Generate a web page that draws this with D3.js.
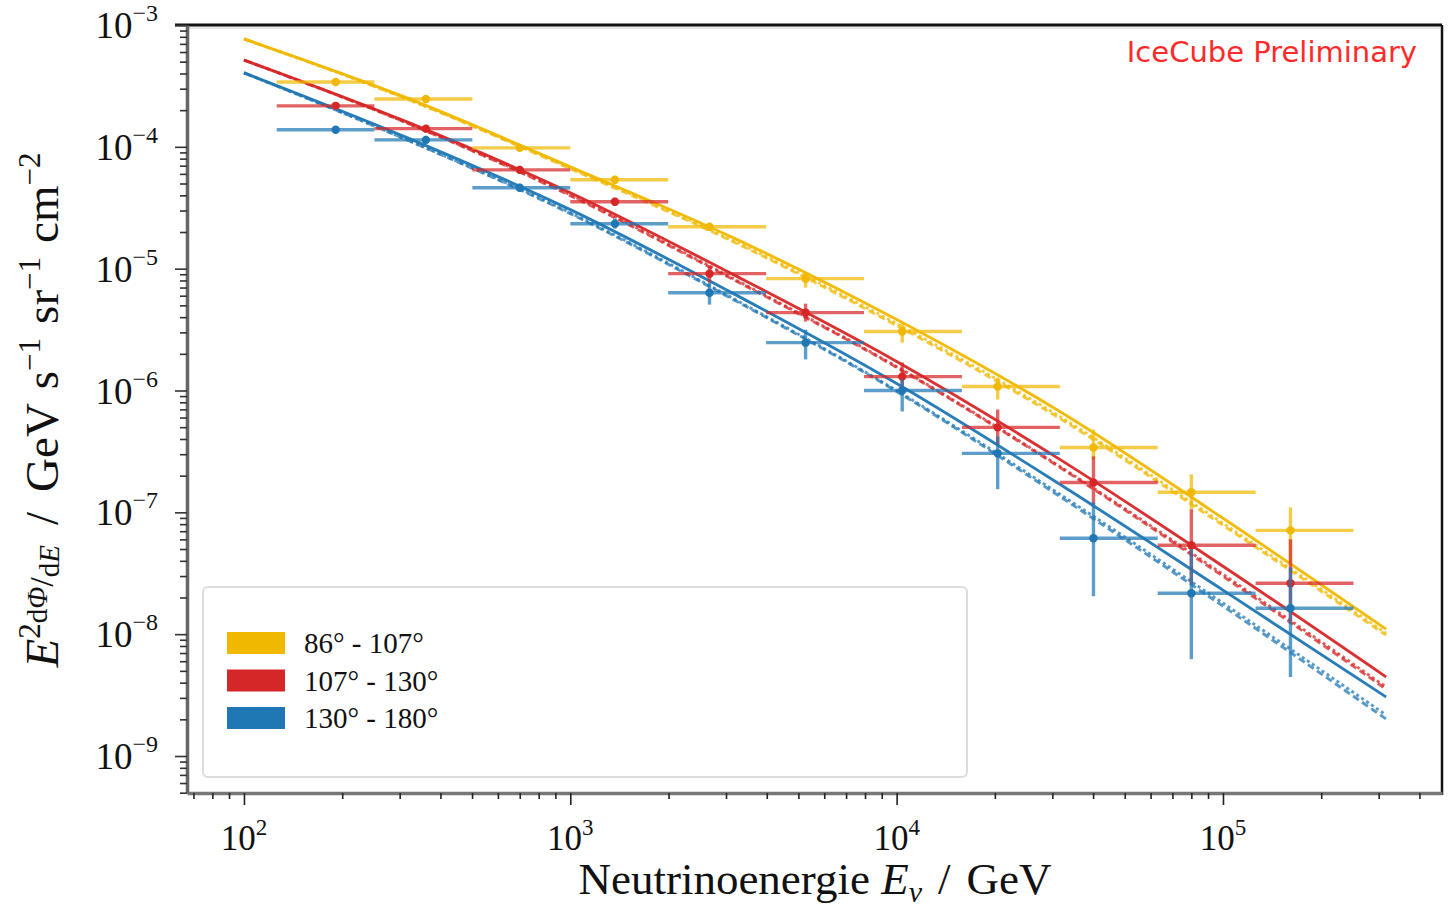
<!DOCTYPE html>
<html>
<head>
<meta charset="utf-8">
<script src="https://cdn.jsdelivr.net/npm/d3@7"></script>
<style>
  html, body { margin: 0; padding: 0; background: #fff; }
  svg { display: block; }
</style>
</head>
<body>
<svg id="chart" width="1450" height="908"></svg>
<script>
// Zenith bands
const bandLabels = ["86° - 107°", "107° - 130°", "130° - 180°"];
const bandColors = ["#f0b800", "#d62728", "#1f77b4"];

// Unfolded spectrum: mean energies of the bins (GeV) and bin edges
const energies = [191, 361, 700, 1370, 2670, 5260, 10400, 20400, 40100, 80000, 161000];
const binEdges = [126, 251, 501, 1000, 1995, 3981, 7943, 15849, 31623, 63096, 125893, 251189];

// E^2 dPhi/dE  (GeV s^-1 sr^-1 cm^-2)
const yellowFlux = [3.41e-4, 2.47e-4, 9.81e-5, 5.37e-5, 2.21e-5, 8.28e-6, 3.05e-6, 1.08e-6, 3.41e-7, 1.46e-7, 7.11e-8];
const yellowHi   = [3.61e-4, 2.62e-4, 1.04e-4, 5.78e-5, 2.38e-5, 9.44e-6, 3.54e-6, 1.28e-6, 4.79e-7, 2.05e-7, 1.10e-7];
const yellowLo   = [3.22e-4, 2.34e-4, 9.27e-5, 4.98e-5, 2.05e-5, 6.98e-6, 2.47e-6, 8.43e-7, 2.72e-7, 1.06e-7, 3.75e-8];

const redFlux = [2.17e-4, 1.41e-4, 6.47e-5, 3.54e-5, 9.10e-6, 4.36e-6, 1.30e-6, 4.98e-7, 1.76e-7, 5.37e-8, 2.62e-8];
const redHi   = [2.30e-4, 1.51e-4, 6.98e-5, 3.82e-5, 1.06e-5, 5.16e-6, 1.70e-6, 6.98e-7, 2.88e-7, 1.06e-7, 6.01e-8];
const redLo   = [2.05e-4, 1.30e-4, 6.01e-5, 3.28e-5, 7.68e-6, 3.68e-6, 1.02e-6, 3.61e-7, 1.16e-7, 2.57e-8, 1.21e-8];

const blueFlux = [1.38e-4, 1.14e-4, 4.61e-5, 2.34e-5, 6.35e-6, 2.47e-6, 1.00e-6, 3.05e-7, 6.12e-8, 2.17e-8, 1.63e-8];
const blueHi   = [1.46e-4, 1.23e-4, 4.98e-5, 2.57e-5, 7.68e-6, 3.16e-6, 1.23e-6, 4.20e-7, 1.21e-7, 4.98e-8, 3.54e-8];
const blueLo   = [1.30e-4, 1.06e-4, 4.28e-5, 2.13e-5, 5.07e-6, 1.80e-6, 6.73e-7, 1.55e-7, 2.05e-8, 6.24e-9, 4.45e-9];

// Model predictions (solid, dashed, dotted) sampled every half decade
const modelE = [100, 316, 1000, 3162, 10000, 31623, 100000, 316228];
const yellowSolid  = [7.68e-4, 2.52e-4, 6.85e-5, 1.79e-5, 3.82e-6, 6.73e-7, 8.93e-8, 1.10e-8];
const yellowDashed = [7.68e-4, 2.47e-4, 6.61e-5, 1.66e-5, 3.41e-6, 5.89e-7, 7.82e-8, 9.82e-9];
const yellowDotted = [7.68e-4, 2.47e-4, 6.73e-5, 1.70e-5, 3.54e-6, 6.12e-7, 8.13e-8, 1.02e-8];
const redSolid  = [5.16e-4, 1.60e-4, 4.20e-5, 8.93e-6, 1.73e-6, 2.72e-7, 3.61e-8, 4.45e-9];
const redDashed = [5.16e-4, 1.57e-4, 3.97e-5, 8.13e-6, 1.55e-6, 2.34e-7, 2.99e-8, 3.54e-9];
const redDotted = [5.16e-4, 1.57e-4, 4.04e-5, 8.28e-6, 1.57e-6, 2.38e-7, 3.10e-8, 3.68e-9];
const blueSolid  = [4.05e-4, 1.19e-4, 3.05e-5, 6.24e-6, 1.14e-6, 1.70e-7, 2.30e-8, 3.05e-9];
const blueDashed = [4.05e-4, 1.14e-4, 2.83e-5, 5.57e-6, 9.82e-7, 1.35e-7, 1.70e-8, 2.01e-9];
const blueDotted = [4.05e-4, 1.14e-4, 2.88e-5, 5.68e-6, 1.00e-6, 1.41e-7, 1.80e-8, 2.17e-9];

const xTickExps = [2, 3, 4, 5];
const yTickExps = [-9, -8, -7, -6, -5, -4, -3];

(function draw() {
  const svg = d3.select("#chart");
  const pL = 187, pR = 1442, pT = 25, pB = 793;

  const x = d3.scaleLog().domain([66.9, 4.69e5]).range([pL, pR]);
  const y = d3.scaleLog().domain([4.97e-10, 1e-3]).range([pB, pT]);

  svg.append("rect").attr("width", 1450).attr("height", 908).attr("fill", "#fff");

  svg.append("defs").append("clipPath").attr("id", "plotclip")
    .append("rect").attr("x", pL).attr("y", pT).attr("width", pR - pL).attr("height", pB - pT);

  const plot = svg.append("g").attr("clip-path", "url(#plotclip)");

  const series = [
    { color: bandColors[0], flux: yellowFlux, hi: yellowHi, lo: yellowLo, models: [yellowSolid, yellowDashed, yellowDotted] },
    { color: bandColors[1], flux: redFlux, hi: redHi, lo: redLo, models: [redSolid, redDashed, redDotted] },
    { color: bandColors[2], flux: blueFlux, hi: blueHi, lo: blueLo, models: [blueSolid, blueDashed, blueDotted] }
  ];

  const line = d3.line()
    .x(d => x(d[0]))
    .y(d => y(d[1]))
    .curve(d3.curveMonotoneX);

  const dashes = [null, "7,4", "3,3"];

  // model curves
  series.forEach(s => {
    s.models.forEach((m, k) => {
      plot.append("path")
        .datum(modelE.map((e, i) => [e, m[i]]))
        .attr("d", line)
        .attr("fill", "none")
        .attr("stroke", s.color)
        .attr("stroke-width", 2.9)
        .attr("stroke-opacity", k === 0 ? 0.95 : 0.75)
        .attr("stroke-dasharray", dashes[k]);
    });
  });

  // unfolded data points with bin widths and uncertainties
  series.forEach(s => {
    const g = plot.append("g");
    energies.forEach((e, i) => {
      g.append("line")
        .attr("x1", x(binEdges[i])).attr("x2", x(binEdges[i + 1]))
        .attr("y1", y(s.flux[i])).attr("y2", y(s.flux[i]))
        .attr("stroke", s.color).attr("stroke-width", 3.4).attr("stroke-opacity", 0.72);
      g.append("line")
        .attr("x1", x(e)).attr("x2", x(e))
        .attr("y1", y(s.hi[i])).attr("y2", y(s.lo[i]))
        .attr("stroke", s.color).attr("stroke-width", 3.4).attr("stroke-opacity", 0.72);
      g.append("circle")
        .attr("cx", x(e)).attr("cy", y(s.flux[i])).attr("r", 4.2)
        .attr("fill", s.color);
    });
  });

  // frame
  svg.append("line").attr("x1", 175).attr("x2", pR).attr("y1", pT).attr("y2", pT)
    .attr("stroke", "#111").attr("stroke-width", 3);
  svg.append("line").attr("x1", pL).attr("x2", pR - 2).attr("y1", pT + 3).attr("y2", pT + 3)
    .attr("stroke", "#ddd").attr("stroke-width", 1.5);
  svg.append("line").attr("x1", pR).attr("x2", pR).attr("y1", pT).attr("y2", pB + 2)
    .attr("stroke", "#111").attr("stroke-width", 2.5);

  // axes
  const xAxis = d3.axisBottom(x)
    .tickValues(d3.range(1, 6).flatMap(p => d3.range(1, 10).map(m => m * Math.pow(10, p))).filter(v => v >= 66.9 && v <= 4.69e5))
    .tickFormat("")
    .tickSizeOuter(0);
  const gx = svg.append("g").attr("transform", `translate(0,${pB})`).call(xAxis);
  gx.select(".domain").attr("stroke", "#777").attr("stroke-width", 3.5);
  gx.selectAll(".tick line")
    .attr("stroke", "#222")
    .attr("stroke-width", 1.6)
    .attr("y2", d => xTickExps.some(p => Math.abs(d - Math.pow(10, p)) < 1e-6 * d) ? 12 : 6);

  const yAxis = d3.axisLeft(y)
    .tickValues(d3.range(-10, -2).flatMap(p => d3.range(1, 10).map(m => m * Math.pow(10, p))).filter(v => v >= 4.97e-10 && v <= 1.0001e-3))
    .tickFormat("")
    .tickSizeOuter(0);
  const gy = svg.append("g").attr("transform", `translate(${pL},0)`).call(yAxis);
  gy.select(".domain").attr("stroke", "#666").attr("stroke-width", 3.5);
  gy.selectAll(".tick line")
    .attr("stroke", "#333")
    .attr("stroke-width", 1.6)
    .attr("x2", d => yTickExps.some(p => Math.abs(d - Math.pow(10, p)) < 1e-6 * d) ? -12 : -7);

  const serif = "'Liberation Serif', 'DejaVu Serif', serif";

  // x tick labels
  xTickExps.forEach(p => {
    const t = svg.append("text")
      .attr("x", x(Math.pow(10, p))).attr("y", 850)
      .attr("text-anchor", "middle")
      .attr("font-family", serif).attr("font-size", 35).attr("fill", "#111");
    t.append("tspan").text("10");
    t.append("tspan").attr("dy", -15).attr("font-size", 23).text(p);
  });

  // y tick labels
  yTickExps.forEach(p => {
    const t = svg.append("text")
      .attr("x", 158).attr("y", y(Math.pow(10, p)) + 13)
      .attr("text-anchor", "end")
      .attr("font-family", serif).attr("font-size", 37).attr("fill", "#111");
    t.append("tspan").text("10");
    t.append("tspan").attr("dy", -17).attr("font-size", 24).text("\u2212" + Math.abs(p));
  });

  // x axis title
  const xt = svg.append("text")
    .attr("x", 815).attr("y", 894)
    .attr("text-anchor", "middle")
    .attr("font-family", serif).attr("font-size", 45).attr("fill", "#111");
  xt.append("tspan").text("Neutrinoenergie ");
  xt.append("tspan").attr("font-style", "italic").text("E");
  xt.append("tspan").attr("font-style", "italic").attr("font-size", 30).attr("dy", 8).text("ν");
  xt.append("tspan").attr("dy", -8).attr("dx", 16).text("/");
  xt.append("tspan").attr("dx", 16).text("GeV");

  // y axis title
  const yt = svg.append("text")
    .attr("transform", "translate(58,410) rotate(-90)")
    .attr("text-anchor", "middle")
    .attr("font-family", serif).attr("font-size", 47).attr("fill", "#111");
  yt.append("tspan").attr("font-style", "italic").text("E");
  yt.append("tspan").attr("font-size", 31).attr("dy", -18).text("2");
  yt.append("tspan").attr("font-size", 29).attr("dy", 7).text("d");
  yt.append("tspan").attr("font-size", 29).attr("font-style", "italic").text("Φ");
  yt.append("tspan").attr("font-size", 34).attr("dy", 6).text("/");
  yt.append("tspan").attr("font-size", 29).attr("dy", 6).text("d");
  yt.append("tspan").attr("font-size", 29).attr("font-style", "italic").text("E");
  yt.append("tspan").attr("dy", -1).attr("dx", 20).text("/");
  yt.append("tspan").attr("dx", 20).text("GeV");
  yt.append("tspan").attr("dx", 14).text("s");
  yt.append("tspan").attr("font-size", 31).attr("dy", -18).text("\u22121");
  yt.append("tspan").attr("dy", 18).attr("dx", 14).text("sr");
  yt.append("tspan").attr("font-size", 31).attr("dy", -18).text("\u22121");
  yt.append("tspan").attr("dy", 18).attr("dx", 14).text("cm");
  yt.append("tspan").attr("font-size", 31).attr("dy", -18).text("\u22122");

  // legend
  const lg = svg.append("g");
  lg.append("rect")
    .attr("x", 203).attr("y", 587).attr("width", 764).attr("height", 190).attr("rx", 5)
    .attr("fill", "#fff").attr("fill-opacity", 0.92)
    .attr("stroke", "#dcdcdc").attr("stroke-width", 2);
  bandLabels.forEach((label, i) => {
    const cy = 643 + i * 37.5;
    lg.append("rect")
      .attr("x", 227).attr("y", cy - 11).attr("width", 58).attr("height", 22)
      .attr("fill", bandColors[i]);
    lg.append("text")
      .attr("x", 304).attr("y", cy + 10)
      .attr("font-family", serif).attr("font-size", 29).attr("fill", "#111")
      .text(label);
  });

  // watermark
  svg.append("text")
    .attr("x", 1417).attr("y", 62)
    .attr("text-anchor", "end")
    .attr("font-family", "'DejaVu Sans', sans-serif").attr("font-size", 29)
    .attr("fill", "#ff2a2a")
    .text("IceCube Preliminary");
})();
</script>
</body>
</html>
